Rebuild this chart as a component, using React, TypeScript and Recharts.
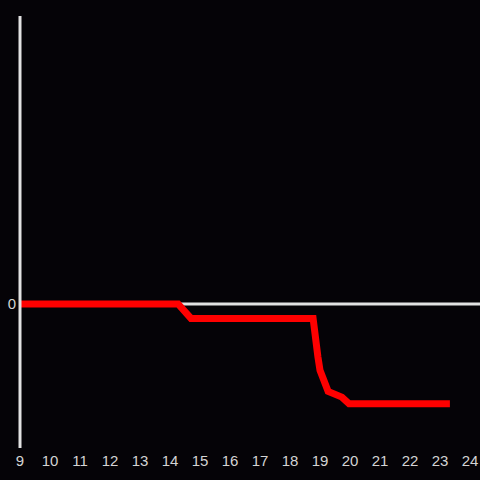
import { Line, LineChart, ReferenceLine, XAxis, YAxis } from "recharts"

// hour of day, and level relative to start
const hours = [9, 14.27, 14.7, 18.77, 18.93, 19.0, 19.27, 19.73, 19.97, 23.33]
const levels = [0, 0, -0.15, -0.15, -0.55, -0.69, -0.91, -0.97, -1.04, -1.04]
const xTicks = [9, 10, 11, 12, 13, 14, 15, 16, 17, 18, 19, 20, 21, 22, 23, 24]
const yTicks = [0]

const data = hours.map((h, i) => ({ hour: h, level: levels[i] }))

const axisColor = "#e2e2e2"
const labelColor = "#d4d4d4"
const tickFont = { fill: labelColor, fontSize: 15, fontFamily: "Liberation Sans" }

function App() {
    return (
        <div style={{ position: "fixed", top: 0, left: 0, width: 480, height: 480, background: "#050307" }}>
            <LineChart
                width={480}
                height={480}
                data={data}
                margin={{ top: 16, right: 0, bottom: 0, left: 0 }}
            >
                <XAxis
                    dataKey="hour"
                    type="number"
                    domain={[9, 24 + 1 / 3]}
                    ticks={xTicks}
                    axisLine={false}
                    tickLine={false}
                    height={32}
                    tickMargin={1}
                    tick={tickFont}
                    interval={0}
                />
                <YAxis
                    type="number"
                    domain={[-1.5, 3]}
                    ticks={yTicks}
                    width={20}
                    tickLine={false}
                    tickMargin={-2}
                    axisLine={{ stroke: axisColor, strokeWidth: 3 }}
                    tick={tickFont}
                />
                <ReferenceLine y={0} stroke={axisColor} strokeWidth={3} />
                <Line
                    dataKey="level"
                    stroke="#ff0000"
                    strokeWidth={7}
                    dot={false}
                    activeDot={false}
                    type="linear"
                    isAnimationActive={false}
                />
            </LineChart>
        </div>
    )
}

export default App
